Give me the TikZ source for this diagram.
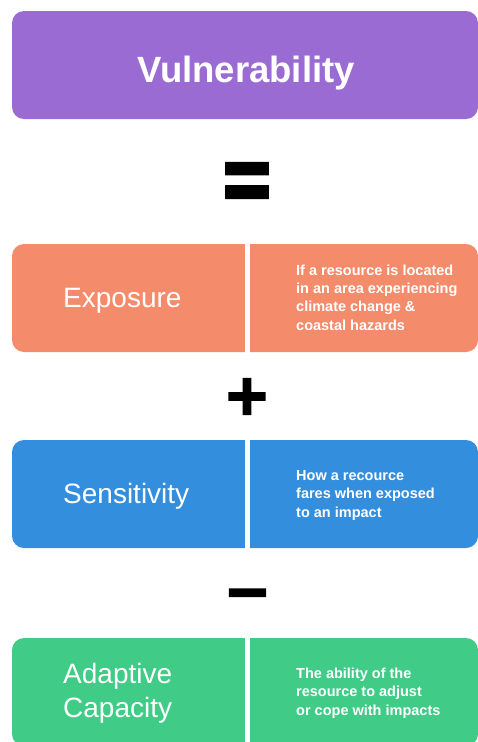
\documentclass[tikz,border=0pt]{standalone}
\usepackage{fontspec}
\setmainfont{Liberation Sans}
\newfontfamily\opfont[FakeBold=4]{DejaVu Sans Bold}
\newfontfamily\eqfont[FakeBold=1.5]{DejaVu Sans Bold}
\definecolor{cpurple}{RGB}{154,108,211}
\definecolor{corange}{RGB}{244,139,107}
\definecolor{cblue}{RGB}{51,142,221}
\definecolor{cgreen}{RGB}{64,203,135}
\tikzset{
  bandbox/.style={rounded corners=12pt, inner sep=0pt, minimum width=466pt, minimum height=108pt, draw=none},
  divider/.style={fill=white, inner sep=0pt, minimum width=5pt, minimum height=109pt, draw=none},
  bigword/.style={text=white, anchor=base west, inner sep=0pt, align=left, font=\fontsize{28}{34}\selectfont},
  desc/.style={text=white, anchor=base west, inner sep=0pt, align=left, font=\bfseries\fontsize{14.5}{18.3}\selectfont},
  opsign/.style={text=black, inner sep=0pt, anchor=center}
}
\begin{document}
\begin{tikzpicture}[x=1pt, y=-1pt]
\useasboundingbox (0,0) rectangle (477,742);
% title
\node[bandbox, fill=cpurple] (vbox) at (245,65) {};
\node[text=white, anchor=base, inner sep=0pt, font=\bfseries\fontsize{36.5}{40}\selectfont] (vtext) at (246,82) {Vulnerability};
% operators
\node[opsign, font=\eqfont\fontsize{68}{68}\selectfont] (eq) at (247,188) {\scalebox{1}[1.55]{=}};
\node[opsign, font=\opfont\fontsize{56}{56}\selectfont] (plus) at (247,396.5) {+};
\node[opsign, font=\opfont\fontsize{56}{56}\selectfont] (minus) at (247.5,600) {−};
% exposure
\node[bandbox, fill=corange] (ebox) at (245,298) {};
\node[divider] (ediv) at (247.5,298) {};
\node[bigword] (etext) at (63,307) {Exposure};
\node[desc] (edesc) at (296,330) {If a resource is located\\in an area experiencing\\climate change \&\\coastal hazards};
% sensitivity
\node[bandbox, fill=cblue] (sbox) at (245,494) {};
\node[divider] (sdiv) at (247.5,494) {};
\node[bigword] (stext) at (63,503) {Sensitivity};
\node[desc] (sdesc) at (296,517) {How a recource\\fares when exposed\\to an impact};
% adaptive capacity
\node[bandbox, fill=cgreen] (abox) at (245,692) {};
\node[divider] (adiv) at (247.5,692) {};
\node[bigword] (atext) at (63,717) {Adaptive\\Capacity};
\node[desc] (adesc) at (296,715) {The ability of the\\resource to adjust\\or cope with impacts};
\end{tikzpicture}
\end{document}
